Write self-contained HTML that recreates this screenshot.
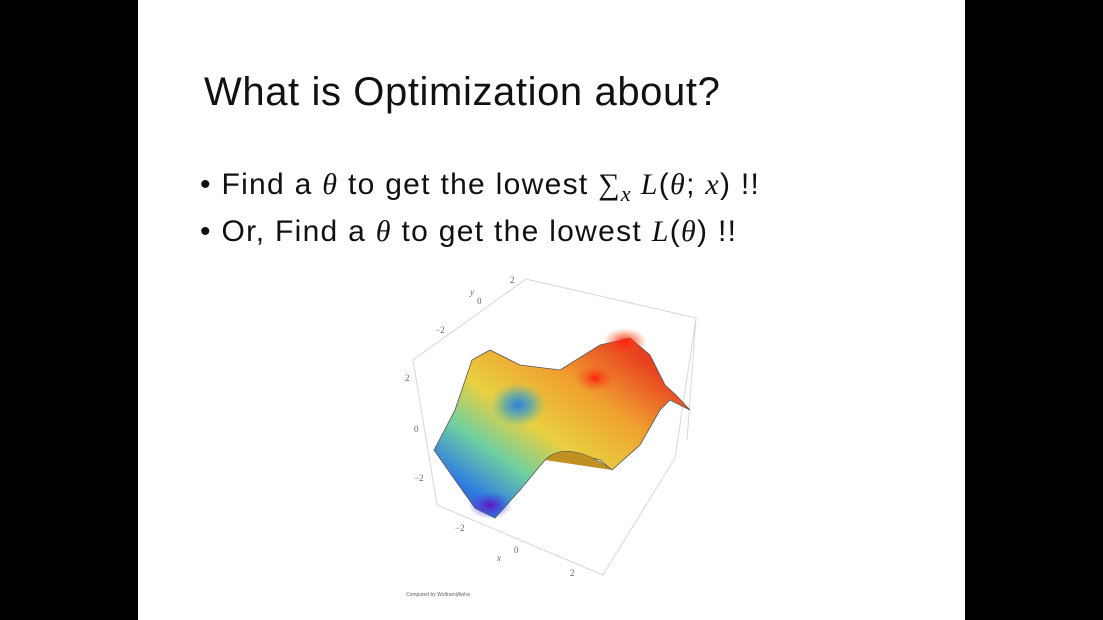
<!DOCTYPE html>
<html><head><meta charset="utf-8"><style>
html,body{margin:0;padding:0;width:1103px;height:620px;overflow:hidden;background:#000;font-family:"Liberation Sans","DejaVu Sans",sans-serif}
#slide{position:absolute;left:138px;top:0;width:827px;height:620px;background:#fff}
.t{position:absolute;color:#111;white-space:nowrap}
.m{font-family:"Liberation Serif",serif;font-style:italic}
</style></head><body>
<div id="slide">
<div class="t" style="left:66px;top:70px;font-size:40px;letter-spacing:0.6px">What is Optimization about?</div>
<div class="t" style="left:62px;top:168px;font-size:30px;letter-spacing:1.3px">• Find a <span class="m">θ</span> to get the lowest <span class="m">∑<sub style="font-size:22px">x</sub> L</span>(<span class="m">θ</span>; <span class="m">x</span>) !!</div>
<div class="t" style="left:62px;top:215px;font-size:30px;letter-spacing:1.3px">• Or, Find a <span class="m">θ</span> to get the lowest <span class="m">L</span>(<span class="m">θ</span>) !!</div>
</div>
<svg width="1103" height="620" style="position:absolute;left:0;top:0">
<defs>
<linearGradient id="g1" x1="0" y1="1" x2="1" y2="0">
<stop offset="0" stop-color="#5a1fc0"/><stop offset="0.15" stop-color="#2f7de0"/><stop offset="0.3" stop-color="#6fd0a0"/><stop offset="0.45" stop-color="#e8d040"/><stop offset="0.65" stop-color="#f0a030"/><stop offset="0.85" stop-color="#e84020"/><stop offset="1" stop-color="#d83018"/></linearGradient>
<radialGradient id="hole"><stop offset="0" stop-color="#2a80e0"/><stop offset="0.5" stop-color="#40a0c0" stop-opacity="0.7"/><stop offset="1" stop-color="#60c0a0" stop-opacity="0"/></radialGradient>
<radialGradient id="pk"><stop offset="0" stop-color="#ff2010"/><stop offset="1" stop-color="#f06020" stop-opacity="0"/></radialGradient>
<radialGradient id="pur"><stop offset="0" stop-color="#6a10c0"/><stop offset="1" stop-color="#3050e0" stop-opacity="0"/></radialGradient>
</defs>
<g stroke="#d8d8d8" stroke-width="1" fill="none">
<path d="M526,279 L696,318 L675,458 M526,279 L413,360 L437,505 L603,575 L675,458 M696,318 L687,440"/>
</g>
<g>
<path d="M434,450 L455,410 L472,360 L490,350 L520,365 L560,370 L600,345 L630,338 L650,355 L665,385 L676,395 L690,410 L670,400 L660,410 L640,445 L612,470 L600,460 L570,452 L545,460 L520,490 L495,518 L475,508 L455,480 Z" fill="url(#g1)" stroke="#555" stroke-width="0.8"/>
<ellipse cx="518" cy="405" rx="28" ry="22" fill="url(#hole)"/>
<ellipse cx="625" cy="342" rx="22" ry="14" fill="url(#pk)"/>
<ellipse cx="595" cy="378" rx="20" ry="14" fill="url(#pk)"/>
<ellipse cx="490" cy="505" rx="22" ry="14" fill="url(#pur)"/>
<path d="M545,460 C560,445 585,450 612,470" fill="#c09020" stroke="#555" stroke-width="0.6"/>
</g>
<g font-family="Liberation Serif,serif" font-size="9" fill="#666">
<text x="510" y="283">2</text><text x="470" y="295" font-style="italic">y</text><text x="477" y="304">0</text>
<text x="435" y="333">−2</text><text x="405" y="381">2</text><text x="414" y="432">0</text><text x="414" y="481">−2</text>
<text x="455" y="531">−2</text><text x="514" y="553">0</text><text x="497" y="561" font-style="italic">x</text><text x="570" y="576">2</text>
<text x="406" y="596" font-size="5" font-family="Liberation Sans,sans-serif">Computed by Wolfram|Alpha</text>
</g>
</svg>
</body></html>
